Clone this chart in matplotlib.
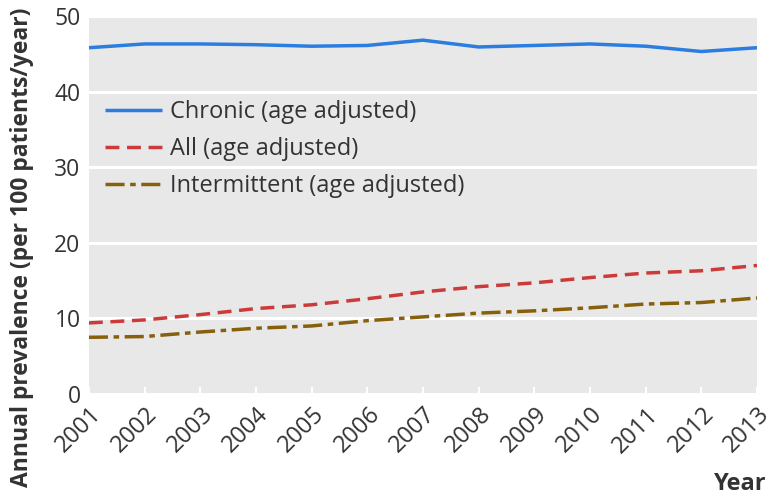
import matplotlib
matplotlib.use("Agg")
import matplotlib.pyplot as plt
import matplotlib.transforms as mtransforms

years = [2001, 2002, 2003, 2004, 2005, 2006, 2007, 2008, 2009, 2010, 2011, 2012, 2013]
chronic = [45.8, 46.3, 46.3, 46.2, 46.0, 46.1, 46.8, 45.9, 46.1, 46.3, 46.0, 45.3, 45.8]
all_ = [9.4, 9.8, 10.5, 11.3, 11.8, 12.6, 13.5, 14.2, 14.7, 15.4, 16.0, 16.3, 17.0]
intermittent = [7.5, 7.6, 8.2, 8.7, 9.0, 9.7, 10.2, 10.7, 11.0, 11.4, 11.9, 12.1, 12.7]
labels = ["Chronic (age adjusted)", "All (age adjusted)", "Intermittent (age adjusted)"]
yticks = [0, 10, 20, 30, 40, 50]

plt.rcParams['font.family'] = ['Open Sans', 'DejaVu Sans']
txt = '#333333'

fig = plt.figure(figsize=(7.8, 4.99), dpi=100)
ax = fig.add_axes([0.114, 0.2104, 0.8565, 0.7576])
ax.set_facecolor('#e8e8e8')

lw = 2.5
ax.plot(years, chronic, color='#2b7de0', lw=lw, solid_capstyle='butt', label=labels[0])
ax.plot(years, all_, color='#cc3a3a', lw=lw, dashes=(4, 2.2), label=labels[1])
ax.plot(years, intermittent, color='#86600a', lw=lw, dashes=(5.5, 1.6, 1.6, 1.6), label=labels[2])

ax.set_xlim(2001, 2013)
ax.set_ylim(0, 50)
ax.set_yticks(yticks)
ax.set_xticks(years)
ax.set_xticklabels([str(y) for y in years], rotation=45, ha='right', va='center',
                   rotation_mode='anchor')
ax.grid(axis='y', color='white', lw=2.2)
ax.set_axisbelow(True)
for s in ax.spines.values():
    s.set_visible(False)
ax.tick_params(axis='x', direction='in', length=5, width=1.5, color='white',
               labelsize=17, labelcolor=txt, pad=0)
ax.tick_params(axis='y', length=0, labelsize=16.5, labelcolor=txt, pad=6)

off = mtransforms.ScaledTranslation(9 / 100, -17 / 100, fig.dpi_scale_trans)
for lab in ax.get_xticklabels():
    lab.set_transform(lab.get_transform() + off)

fig.text(22 / 780, 1 - 247 / 499, "Annual prevalence (per 100 patients/year)",
         fontsize=16.5, fontweight='bold', color=txt, rotation=90,
         ha='center', va='center')
fig.text(767 / 780, 1 - 490 / 499, "Year", fontsize=17, fontweight='bold', color=txt,
         ha='right', va='baseline')

leg = ax.legend(loc='upper left', bbox_to_anchor=(0.024, 0.777), frameon=False,
                fontsize=17, labelcolor=txt, handlelength=2.4, handletextpad=0.35,
                labelspacing=0.55, borderpad=0, borderaxespad=0)

fig.savefig("out.png", dpi=100)
